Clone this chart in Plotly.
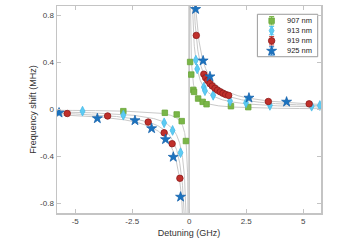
import numpy as np
import plotly.graph_objects as go

# ---- data ----
labels = ["907 nm", "913 nm", "919 nm", "925 nm"]

x_907 = [-2.89, -1.07, -0.55, -0.33, -0.145, 0.04, 0.09, 0.18, 0.21, 0.39, 0.59, 0.76, 1.83, 2.59]
y_907 = [-0.014, -0.028, -0.042, -0.099, -0.268, 0.404, 0.297, 0.167, 0.15, 0.093, 0.065, 0.045, 0.028, 0.02]

x_913 = [-4.68, -2.89, -1.1, -0.73, -0.38, 0.29, 0.35, 0.64, 0.69, 1.05, 1.79, 2.49, 3.54, 5.37, 5.73]
y_913 = [-0.014, -0.048, -0.113, -0.178, -0.367, 0.42, 0.345, 0.19, 0.16, 0.121, 0.072, 0.057, 0.035, 0.028, 0.034]

x_919 = [-5.35, -3.58, -1.8, -1.1, -0.75, -0.41, 0.31, 0.64, 0.72, 0.81, 0.91, 1.01, 1.13, 1.24, 1.36, 1.48, 1.6, 1.73, 3.47, 5.26]
y_919 = [-0.034, -0.055, -0.107, -0.198, -0.291, -0.585, 0.63, 0.30, 0.27, 0.246, 0.22, 0.2, 0.18, 0.164, 0.15, 0.138, 0.127, 0.12, 0.068, 0.048]

x_925 = [-5.71, -4.03, -2.38, -1.65, -1.04, -0.70, -0.38, 0.28, 0.61, 0.91, 2.62, 4.27]
y_925 = [-0.028, -0.076, -0.093, -0.161, -0.254, -0.404, -0.743, 0.853, 0.415, 0.28, 0.099, 0.065]

# fitted amplitudes of the A/detuning model curves (MHz*GHz)
fit_amp = [0.04, 0.12, 0.19, 0.25]

x_ticks = [-5, -2.5, 0, 2.5, 5]
x_tick_text = ["-5", "-2.5", "0", "2.5", "5"]
y_ticks = [-0.8, -0.4, 0, 0.4, 0.8]
y_tick_text = ["-0.8", "-0.4", "0", "0.4", "0.8"]

# ---- styles ----
colors = ["#7ab648", "#5ccbf3", "#c0302b", "#1a73c0"]
edge_colors = ["#6aa63a", "#4dbbe8", "#8e1a1a", "#1a66ad"]
symbols = ["square", "diamond-tall", "circle", "star"]
sizes = [5.5, 7, 6.5, 7.5]
FONT = "Liberation Sans, Arial"

fig = go.Figure()

# model curves
xf = np.arange(-6.0, 6.0, 0.01) + 0.005
for a in fit_amp:
    fig.add_trace(go.Scatter(x=xf, y=a / xf, mode="lines",
                             line=dict(color="#c9c9c9", width=1),
                             showlegend=False, hoverinfo="skip"))

series = [(x_907, y_907), (x_913, y_913), (x_919, y_919), (x_925, y_925)]
for (xs, ys), lab, c, ec, s, sz in zip(series, labels, colors, edge_colors, symbols, sizes):
    fig.add_trace(go.Scatter(
        x=xs, y=ys, mode="markers", name=lab, showlegend=False,
        marker=dict(symbol=s, size=sz, color=c, line=dict(color=ec, width=0.8)),
        error_y=dict(type="constant", value=0.006, color=c, thickness=1, width=2),
    ))

# ---- compact legend (layout: drawn on an overlay axis in plot-fraction units) ----
lg_left, lg_right, lg_top, lg_bottom = 0.759, 0.9875, 0.96, 0.755
lg_rows = [0.929, 0.881, 0.832, 0.783]
lg_marker_x, lg_text_x = 0.813, 0.862
fig.add_shape(type="rect", xref="x2", yref="y2", x0=lg_left, x1=lg_right, y0=lg_bottom, y1=lg_top,
              line=dict(color="#9a9a9a", width=1), fillcolor="white", layer="below")
for lab, c, ec, s, sz, ry in zip(labels, colors, edge_colors, symbols, sizes, lg_rows):
    fig.add_trace(go.Scatter(
        x=[lg_marker_x], y=[ry], xaxis="x2", yaxis="y2", mode="markers", showlegend=False,
        marker=dict(symbol=s, size=sz, color=c, line=dict(color=ec, width=0.8)),
        error_y=dict(type="constant", value=0.02, color=c, thickness=1, width=2.5),
        hoverinfo="skip",
    ))
    fig.add_annotation(x=lg_text_x, y=ry, xref="x2", yref="y2", text=lab, showarrow=False,
                       xanchor="left", yanchor="middle",
                       font=dict(family=FONT, size=7.5, color="#222222"))

axis_common = dict(
    showgrid=False, zeroline=False, showline=True, linecolor="#c4c4c4", linewidth=1.5,
    mirror="ticks", ticks="inside", ticklen=4, tickcolor="#c4c4c4",
    tickfont=dict(family=FONT, size=8, color="#454545"),
)

fig.update_layout(
    width=337, height=246,
    margin=dict(l=57, r=16, t=6, b=33, autoexpand=False),
    paper_bgcolor="white", plot_bgcolor="white",
    xaxis=dict(range=[-5.8, 5.78], tickvals=x_ticks, ticktext=x_tick_text,
               title=dict(text="Detuning (GHz)", standoff=4,
                          font=dict(family=FONT, size=9, color="#333333")),
               **axis_common),
    yaxis=dict(range=[-0.88, 0.88], tickvals=y_ticks, ticktext=y_tick_text,
               title=dict(text="Frequency shift (MHz)", standoff=2,
                          font=dict(family=FONT, size=9, color="#333333")),
               **axis_common),
    xaxis2=dict(range=[0, 1], overlaying="x", visible=False, fixedrange=True),
    yaxis2=dict(range=[0, 1], overlaying="y", visible=False, fixedrange=True),
    showlegend=False,
    hovermode=False,
)

fig.write_html("out.html", config={"displayModeBar": False, "staticPlot": True},
               post_script="document.body.style.margin='0';")
